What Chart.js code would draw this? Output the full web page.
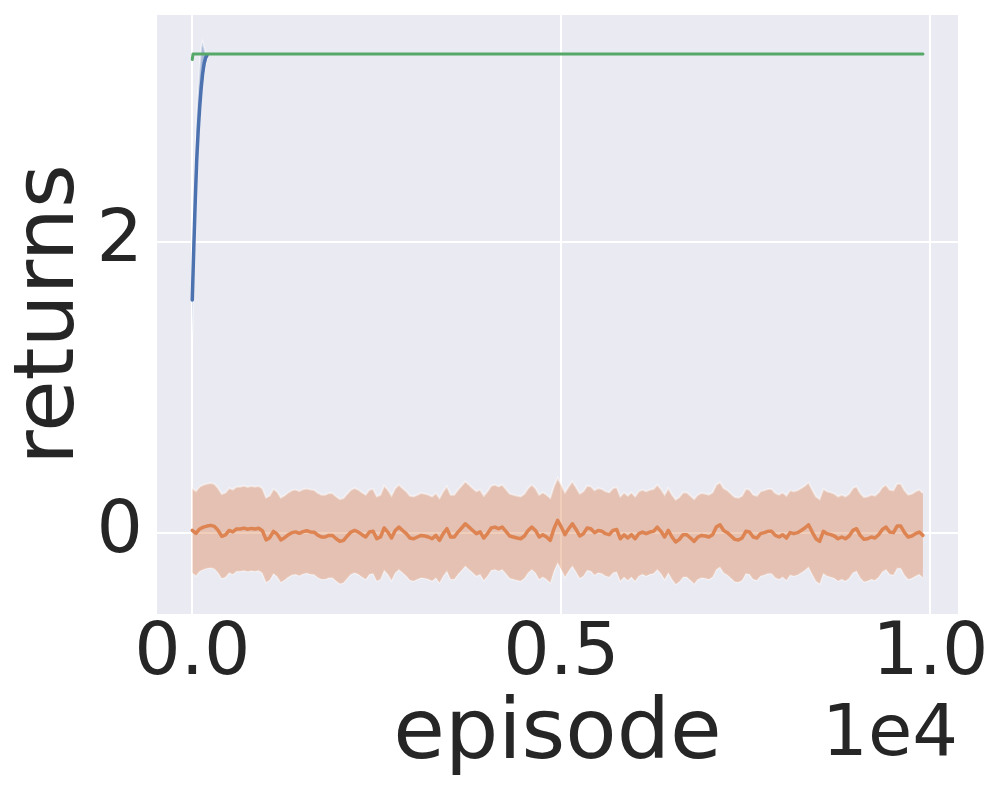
<!DOCTYPE html>
<html>
<head>
<meta charset="utf-8">
<script src="https://cdn.jsdelivr.net/npm/chart.js@4.4.1/dist/chart.umd.min.js"></script>
<style>
  html, body { margin: 0; padding: 0; background: #fff; }
  canvas { display: block; }
</style>
</head>
<body>
<canvas id="returns-chart" width="996" height="794"></canvas>
<script>
// blue run: climbs to the reference level in the first ~200 episodes
const blueEpisodes = [0, 20, 40, 60, 80, 100, 120, 140, 160, 180, 200];
const blueMean = [1.6, 1.95, 2.28, 2.56, 2.76, 2.92, 3.05, 3.15, 3.22, 3.26, 3.28];
const blueUpper = [1.62, 2.15, 2.55, 2.85, 3.05, 3.2, 3.33, 3.37, 3.33, 3.29, 3.28];
const blueLower = [1.34, 1.85, 2.2, 2.5, 2.7, 2.86, 2.98, 3.08, 3.16, 3.22, 3.26];

// green run: flat
const greenEpisodes = [0, 10, 9900];
const greenMean = [3.25, 3.287, 3.287];

// orange run: noise around zero, one reading every 50 episodes
const orangeStep = 50;
const orangeMean = [
    0.02, 0.0, 0.03, 0.043, 0.05, 0.055, 0.048, 0.02, -0.02, -0.01,
    0.02, 0.01, 0.03, 0.03, 0.036, 0.028, 0.034, 0.03, 0.035, 0.018,
    -0.045, -0.03, 0.014, -0.005, -0.045, -0.03, -0.01, 0.005, 0.01, 0.0,
    0.012, 0.018, 0.01, 0.008, -0.012, -0.025, -0.025, -0.014, -0.015, -0.037,
    -0.055, -0.048, -0.018, 0.009, 0.02, 0.009, -0.009, -0.025, 0.009, 0.014,
    -0.037, -0.025, 0.037, 0.009, -0.032, 0.02, 0.043, 0.02, -0.002, -0.032,
    -0.037, -0.025, -0.014, -0.018, -0.025, -0.037, -0.014, -0.048, -0.002, 0.032,
    -0.025, -0.025, 0.009, 0.037, 0.066, 0.043, 0.02, -0.002, 0.01, -0.032,
    -0.002, 0.037, 0.043, 0.032, 0.043, 0.014, -0.018, -0.025, -0.032, -0.037,
    -0.018, 0.02, 0.043, 0.02, -0.025, -0.009, -0.025, -0.048, 0.032, 0.089,
    0.043, -0.009, 0.032, 0.066, 0.027, -0.018, -0.002, 0.037, 0.032, 0.005,
    0.02, 0.014, -0.002, -0.009, 0.02, 0.027, -0.037, -0.01, -0.032, -0.009,
    -0.037, -0.002, 0.009, -0.002, 0.009, 0.014, 0.043, 0.014, -0.025, 0.02,
    -0.025, -0.059, -0.041, -0.009, -0.009, -0.032, -0.055, -0.025, -0.014, -0.018,
    -0.025, -0.009, 0.043, 0.059, 0.02, 0.005, -0.018, -0.041, -0.046, -0.032,
    0.014, 0.009, -0.025, -0.032, -0.002, 0.005, 0.014, 0.014, -0.014, -0.025,
    -0.009, -0.032, 0.005, -0.002, 0.005, 0.02, 0.037, 0.059, 0.009, -0.037,
    -0.055, 0.014, -0.002, -0.009, -0.018, -0.037, -0.025, -0.037, -0.018, 0.02,
    0.032, -0.014, -0.041, -0.037, -0.025, -0.032, -0.009, 0.027, 0.043, 0.009,
    0.005, 0.05, 0.05, 0.005, -0.025, -0.018, -0.002, 0.009, -0.014,
];
const orangeSd = 0.29;

const xTicks = [0, 5000, 10000];
const yTicks = [0, 2];

const BLUE = '#4C72B0';
const ORANGE = '#DD8452';
const GREEN = '#55A868';
const TEXT = '#262626';
const FONT = '"DejaVu Sans", sans-serif';

const pts = (xs, ys) => ys.map((y, i) => ({ x: xs[i], y }));
const orangeEpisodes = orangeMean.map((_, i) => i * orangeStep);

const lineDs = (data, color, order, width = 3) => ({
    data, order,
    borderColor: color, borderWidth: width,
    borderCapStyle: 'round', borderJoinStyle: 'round',
    pointRadius: 0, tension: 0, fill: false,
});
const bandDs = (data, fillColor, order, fill) => ({
    data, order, fill,
    backgroundColor: fillColor,
    borderColor: 'rgba(255,255,255,0.45)', borderWidth: 2,
    pointRadius: 0, tension: 0,
});

const plotBackground = {
    id: 'plotBackground',
    beforeDraw(chart) {
        const { ctx, chartArea: a } = chart;
        ctx.save();
        ctx.fillStyle = '#EAEAF2';
        ctx.fillRect(a.left, a.top, a.right - a.left, a.bottom - a.top);
        ctx.restore();
    },
};

// matplotlib style offset text under the right end of the x axis
const offsetText = {
    id: 'offsetText',
    afterDraw(chart) {
        const { ctx, chartArea: a } = chart;
        ctx.save();
        ctx.font = `72px ${FONT}`;
        ctx.fillStyle = TEXT;
        ctx.textAlign = 'right';
        ctx.textBaseline = 'alphabetic';
        ctx.fillText('1e4', a.right, 755);
        ctx.restore();
    },
};

new Chart(document.getElementById('returns-chart').getContext('2d'), {
    type: 'line',
    data: {
        datasets: [
            lineDs(pts(greenEpisodes, greenMean), GREEN, 0),
            lineDs(pts(orangeEpisodes, orangeMean), ORANGE, 1, 3.5),
            bandDs(pts(orangeEpisodes, orangeMean.map((m) => m + orangeSd)), 'rgba(221,132,82,0.4)', 2, '+1'),
            bandDs(pts(orangeEpisodes, orangeMean.map((m) => m - orangeSd)), 'rgba(221,132,82,0.4)', 2, false),
            lineDs(pts(blueEpisodes, blueMean), BLUE, 3, 3.5),
            bandDs(pts(blueEpisodes, blueUpper), 'rgba(76,114,176,0.4)', 4, '+1'),
            bandDs(pts(blueEpisodes, blueLower), 'rgba(76,114,176,0.4)', 4, false),
        ],
    },
    options: {
        responsive: false,
        animation: false,
        layout: { padding: { top: 15, right: 38, left: 0, bottom: 0 } },
        plugins: { legend: { display: false }, tooltip: { enabled: false } },
        scales: {
            x: {
                type: 'linear',
                min: -478,
                max: 10375,
                afterBuildTicks: (s) => { s.ticks = xTicks.map((value) => ({ value })); },
                afterFit: (s) => { s.height = 180; },
                ticks: {
                    callback: (v) => (v / 1e4).toFixed(1),
                    font: { family: FONT, size: 73, lineHeight: 1 },
                    color: TEXT,
                    padding: 5,
                    maxRotation: 0,
                },
                grid: { color: '#ffffff', lineWidth: 2, drawTicks: false },
                border: { display: false },
                title: {
                    display: true,
                    text: 'episode',
                    font: { family: FONT, size: 84, lineHeight: 1 },
                    color: TEXT,
                    padding: { top: 0, bottom: 16 },
                },
            },
            y: {
                min: -0.553,
                max: 3.555,
                afterBuildTicks: (s) => { s.ticks = yTicks.map((value) => ({ value })); },
                afterFit: (s) => {
                    s.width = 157;
                    s.paddingTop = 0;
                    s.paddingBottom = 0;
                },
                ticks: {
                    callback: (v) => String(v),
                    font: { family: FONT, size: 73, lineHeight: 1 },
                    color: TEXT,
                    padding: 14,
                },
                grid: { color: '#ffffff', lineWidth: 2, drawTicks: false },
                border: { display: false },
                title: {
                    display: true,
                    text: 'returns',
                    font: { family: FONT, size: 84, lineHeight: 1 },
                    color: TEXT,
                    padding: { top: 9, bottom: 0 },
                },
            },
        },
    },
    plugins: [plotBackground, offsetText],
});
</script>
</body>
</html>
